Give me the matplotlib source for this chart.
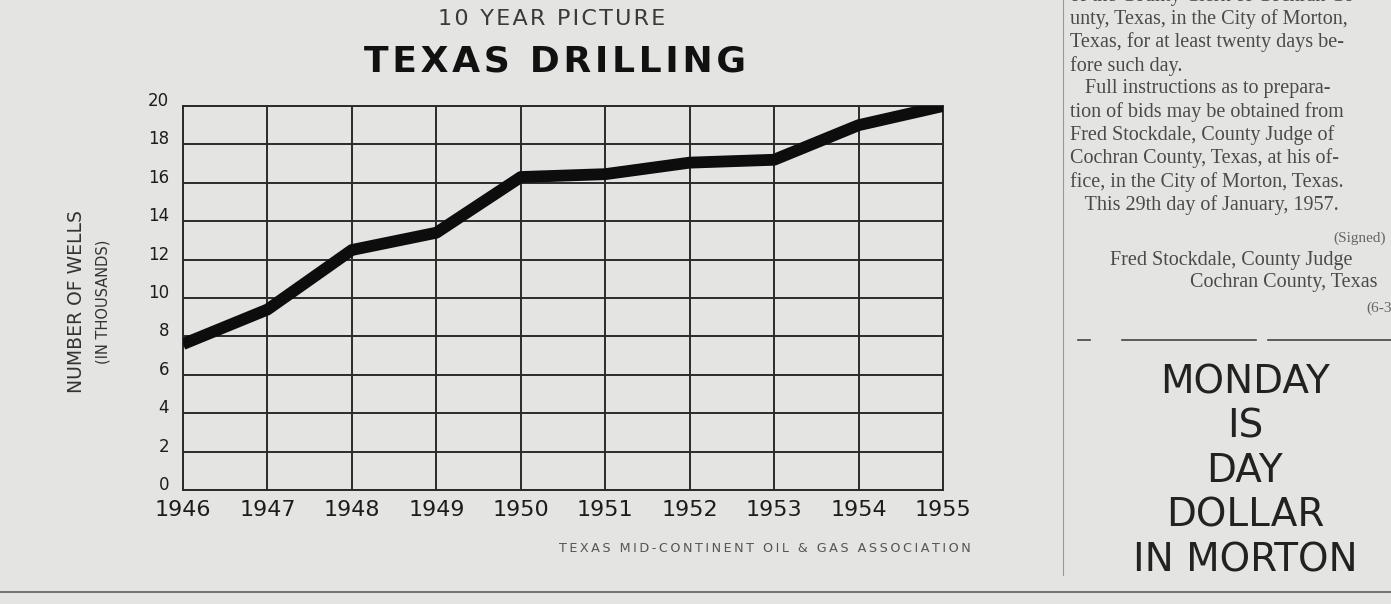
import matplotlib
matplotlib.use("Agg")
import matplotlib.pyplot as plt

# Texas drilling, number of wells (in thousands)
years = [1946, 1947, 1948, 1949, 1950, 1951, 1952, 1953, 1954, 1955]
wells = [7.6, 9.4, 12.5, 13.4, 16.3, 16.45, 17.05, 17.2, 19.0, 20.0]
y_ticks = list(range(0, 21, 2))

# newspaper column text beside the chart
column_lines = [
    "of the County Clerk of Cochran Co",
    "unty, Texas, in the City of Morton,",
    "Texas, for at least twenty days be-",
    "fore such day.",
    "   Full instructions as to prepara-",
    "tion of bids may be obtained from",
    "Fred Stockdale, County Judge of",
    "Cochran County, Texas, at his of-",
    "fice, in the City of Morton, Texas.",
    "   This 29th day of January, 1957.",
]
signed_lines = ["(Signed)", "Fred Stockdale, County Judge", "Cochran County, Texas", "(6-3"]
ad_lines = ["MONDAY", "IS", "DAY", "DOLLAR", "IN MORTON"]

W, H = 1391, 604
paper = "#e4e4e2"
ink = "#1c1c1c"


def px(x, y):
    return x / W, 1 - y / H


def spaced(s, gap):
    # letter spacing by putting a narrow space between characters
    return gap.join(s)


fig = plt.figure(figsize=(W / 100, H / 100), dpi=100, facecolor=paper)
ax = fig.add_axes([183 / W, 1 - 490 / H, (943 - 183) / W, (490 - 106) / H])
ax.set_facecolor(paper)

ax.plot(years, wells, color="#0d0d0d", lw=8.5, solid_capstyle="butt",
        solid_joinstyle="round", zorder=3)

ax.set_xlim(years[0], years[-1])
ax.set_ylim(0, 20)
ax.set_xticks(years)
ax.set_yticks(y_ticks)
ax.grid(True, color="#2a2a2a", lw=1.4)
for s in ax.spines.values():
    s.set_color("#2a2a2a")
    s.set_linewidth(1.4)
ax.tick_params(length=0, colors=ink)
ax.tick_params(axis="x", labelsize=16, pad=7)
ax.tick_params(axis="y", labelsize=12, pad=10)
for lab in ax.get_yticklabels():
    lab.set_verticalalignment("baseline")

# titles
fig.text(*px(552, 19), spaced("10 YEAR PICTURE", "\u200a"), ha="center", va="center",
         fontsize=16, color="#3a3a3a")
fig.text(*px(555, 62), spaced("TEXAS DRILLING", "\u200a"), ha="center", va="center",
         fontsize=26, fontweight="bold", color="#111111")

# axis titles
fig.text(*px(76, 302), "NUMBER OF WELLS", rotation=90, ha="center", va="center",
         fontsize=13.5, color="#333333")
fig.text(*px(103, 302), "(IN THOUSANDS)", rotation=90, ha="center", va="center",
         fontsize=10.5, color="#333333")

# source
fig.text(*px(765, 549), spaced("TEXAS MID-CONTINENT OIL & GAS ASSOCIATION", "\u2009"),
         ha="center", va="center", fontsize=9.2, color="#555555")

# column divider and rules
fig.add_artist(plt.Line2D([1063 / W, 1063 / W], [1 - 575 / H, 1], color="#999999", lw=0.8))
fig.add_artist(plt.Line2D([0, 1], [1 - 592 / H, 1 - 592 / H], color="#6a6a6a", lw=1.3))
for x0, x1 in [(1078, 1090), (1122, 1256), (1268, 1391)]:
    fig.add_artist(plt.Line2D([x0 / W, x1 / W], [1 - 340 / H, 1 - 340 / H], color="#444444", lw=1.2))

# column text (runs off the right edge like the scan)
for i, line in enumerate(column_lines):
    fig.text(*px(1070, -4 + i * 23.2), line, ha="left", va="center",
             fontsize=14.5, family="Liberation Serif", color="#4a4a4a")
fig.text(*px(1386, 238), signed_lines[0], ha="right", va="center",
         fontsize=11, family="Liberation Serif", color="#666666")
fig.text(*px(1110, 260), signed_lines[1], ha="left", va="center",
         fontsize=14.5, family="Liberation Serif", color="#4a4a4a")
fig.text(*px(1190, 283), signed_lines[2], ha="left", va="center",
         fontsize=14.5, family="Liberation Serif", color="#4a4a4a")
fig.text(*px(1366, 308), signed_lines[3], ha="left", va="center",
         fontsize=11, family="Liberation Serif", color="#666666")

for i, line in enumerate(ad_lines):
    fig.text(*px(1245, 382 + i * 44.5), line, ha="center", va="center",
             fontsize=28, color="#222222")

fig.savefig("out.png", dpi=100, facecolor=paper)
